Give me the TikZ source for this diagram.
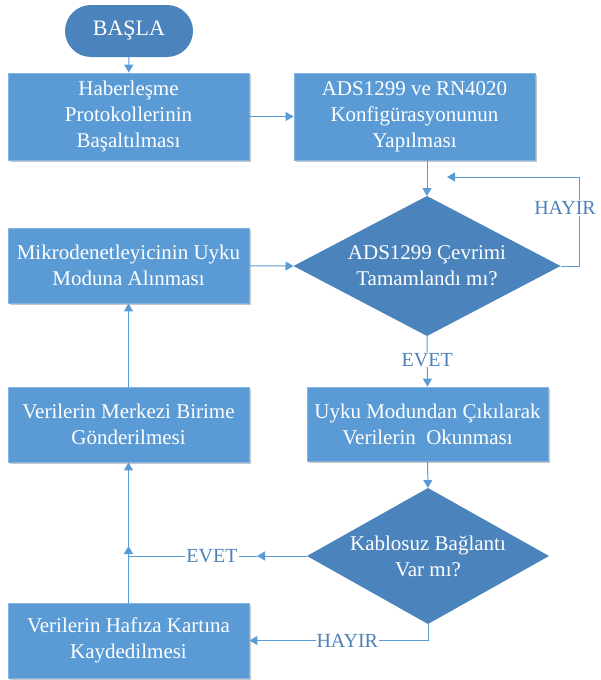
\documentclass[tikz,border=0pt]{standalone}
\usepackage{fontspec}
\setmainfont{Liberation Serif}
\newfontfamily\tnr{Liberation Serif}
\usetikzlibrary{shapes.geometric,arrows.meta,shadows}
\definecolor{boxc}{HTML}{5B9BD5}
\definecolor{darkc}{HTML}{4B84BC}
\definecolor{labc}{HTML}{4E80B9}
\definecolor{linec}{HTML}{5B9BD5}
\definecolor{edgec}{HTML}{85B4E0}
\tikzset{
  procbox/.style={rectangle, fill=boxc, draw=edgec, line width=0.8pt,
    minimum width=241pt, text=white, align=center, inner sep=2pt,
    font=\tnr\fontsize{21}{26}\selectfont,
    drop shadow={shadow xshift=1.5pt, shadow yshift=-1.5pt, opacity=0.22, fill=black}},
  decbox/.style={diamond, fill=darkc, draw=none, inner sep=0pt, outer sep=0pt},
  dectext/.style={text=white, align=center, font=\tnr\fontsize{21}{26}\selectfont},
  termbox/.style={rectangle, rounded corners=26pt, fill=darkc, text=white,
    minimum width=128pt, minimum height=52pt, font=\tnr\fontsize{22}{26}\selectfont},
  conn/.style={draw=linec, line width=1pt},
  arr/.style={conn, -{Triangle[width=9pt,length=8pt]}},
  lab/.style={fill=white, text=labc, inner sep=1pt, font=\tnr\fontsize{20}{24}\selectfont}
}
\begin{document}
\begin{tikzpicture}[x=1pt,y=-1pt]
\useasboundingbox (0,0) rectangle (601,680);
\node[termbox] (start) at (129,31) {BAŞLA};
\node[procbox, minimum height=87pt] (b1) at (128.5,116.5) {Haberleşme\\Protokollerinin\\Başaltılması};
\node[procbox, minimum height=87pt] (b2) at (414.5,116.5) {ADS1299 ve RN4020\\Konfigürasyonunun\\Yapılması};
\node[decbox, minimum width=267pt, minimum height=140pt] (d1) at (427,266) {};
\node[dectext] (d1t) at (d1.center) {ADS1299 Çevrimi\\Tamamlandı mı?};
\node[procbox, minimum height=75pt] (bm) at (128.5,265.5) {Mikrodenetleyicinin Uyku\\Moduna Alınması};
\node[procbox, minimum height=74pt] (bu) at (427.5,424) {Uyku Modundan Çıkılarak\\Verilerin\ \ Okunması};
\node[procbox, minimum height=75pt] (bg) at (128.5,424.5) {Verilerin Merkezi Birime\\Gönderilmesi};
\node[decbox, minimum width=242pt, minimum height=136pt] (d2) at (428,556) {};
\node[dectext] (d2t) at (d2.center) {Kablosuz Bağlantı\\Var mı?};
\node[procbox, minimum height=75pt] (bh) at (128.5,640.5) {Verilerin Hafıza Kartına\\Kaydedilmesi};

\coordinate (c1top) at (d1.north |- b2.south);
\coordinate (loopR) at (579,266);
\coordinate (loopT) at (579,177);
\coordinate (loopE) at (447,177);
\coordinate (evetTip) at (257,556);
\coordinate (jn) at (bg.south |- d2.west);
\coordinate (jnTip) at (128.5,546);

\draw[arr] (start) -- (b1);
\draw[arr] (b1) -- (b2);
\draw[arr] (c1top) -- (d1.north);
\draw[conn] (d1.east) -- (loopR) -- (loopT);
\draw[arr] (loopT) -- (loopE);
\node[lab] (hayir1) at (565,208) {HAYIR};
\draw[arr] (bm) -- (d1.west);
\draw[arr] (d1.south) -- node[lab, pos=0.47]{EVET} (bu.north);
\draw[arr] (bu.south) -- (d2.north);
\draw[arr] (d2.west) -- (evetTip);
\draw[conn] (evetTip) -- node[lab, pos=0.35]{EVET} (jn);
\draw[arr] (bh.north) -- (bg.south);
\draw[arr] (bh.north) -- (jnTip);
\draw[arr] (d2.south) |- node[lab, pos=0.726]{HAYIR} (bh.east);
\draw[arr] (bg.north) -- (bm.south);
\end{tikzpicture}
\end{document}
